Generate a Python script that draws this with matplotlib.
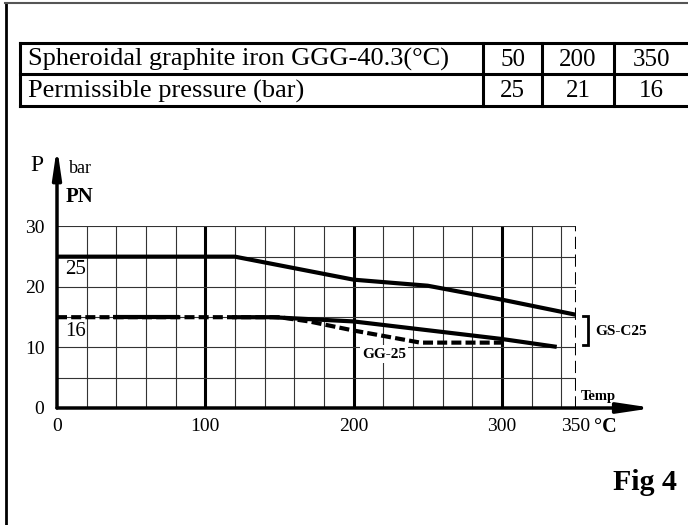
import matplotlib
matplotlib.use('Agg')
import matplotlib.pyplot as plt

plt.rcParams['font.family'] = ['Liberation Serif', 'DejaVu Serif']

# ---------------- data ----------------
table_row_labels = ["Spheroidal graphite iron GGG-40.3(°C)", "Permissible pressure (bar)"]
table_temps = ["50", "200", "350"]
table_pressures = ["25", "21", "16"]

pn25_t = [0, 120, 200, 250, 300, 350]
pn25_p = [25, 25, 21.2, 20.2, 17.9, 15.4]

gsc25_t = [118, 145, 200, 300, 337]
gsc25_p = [15, 15, 14.3, 11.4, 10.1]

gg25_t = [0, 150, 170, 200, 245, 300]
gg25_p = [15, 15, 14.3, 12.8, 10.8, 10.8]

pn16_seg_t = [38, 82]
pn16_seg_p = [15, 15]

x_ticks = [0, 100, 200, 300, 350]
x_ticklabels = ["0", "100", "200", "300", "350"]
y_ticks = [0, 10, 20, 30]
y_ticklabels = ["0", "10", "20", "30"]

# ---------------- layout ----------------
W, H = 688, 525
fig = plt.figure(figsize=(W / 100, H / 100), dpi=100)

ov = fig.add_axes([0, 0, 1, 1])
ov.set_xlim(0, W)
ov.set_ylim(H, 0)
ov.axis('off')

# frame
ov.plot([5.5, 5.5], [2.5, H], color='k', lw=2)
ov.plot([5, W], [2.5, 2.5], color='#555555', lw=1.5)

# table
tl, tr = 20, 692
ttop, tmid, tbot = 43, 74, 106
cols = [483, 542, 614]
for yy in (ttop, tmid, tbot):
    ov.plot([tl, tr], [yy, yy], color='k', lw=2.2, clip_on=False)
for xx in [tl] + cols:
    ov.plot([xx, xx], [ttop, tbot], color='k', lw=2.2)
rows_y = [(ttop + tmid) / 2 + 1, (tmid + tbot) / 2 + 1]
for lab, yy in zip(table_row_labels, rows_y):
    ov.text(28, yy, lab, fontsize=19, ha='left', va='center')
centers = [(cols[0] + cols[1]) / 2, (cols[1] + cols[2]) / 2, 651]
for c, t, p in zip(centers, table_temps, table_pressures):
    ov.text(c, rows_y[0], t, fontsize=18, ha='center', va='center')
    ov.text(c, rows_y[1], p, fontsize=18, ha='center', va='center')

# axis labels
ov.text(37, 171, "P", fontsize=17, ha='center', va='baseline')
ov.text(69, 173, "bar", fontsize=13, ha='left', va='baseline')
ov.text(66, 202, "PN", fontsize=15, fontweight='bold', ha='left', va='baseline')
ov.text(645, 490, "Fig 4", fontsize=21.5, fontweight='bold', ha='center', va='baseline')

# ---------------- chart ----------------
ax = fig.add_axes([57 / W, (H - 408) / H, 519 / W, 181.6 / H])
ax.set_xlim(0, 350)
ax.set_ylim(0, 30)
ax.patch.set_visible(False)
for s in ax.spines.values():
    s.set_visible(False)

for x in range(20, 350, 20):
    if x % 100 == 0:
        ax.axvline(x, color='k', lw=2.2, zorder=1)
    else:
        ax.axvline(x, color='#333333', lw=0.8, zorder=1)
for y in range(5, 31, 5):
    ax.axhline(y, color='#333333', lw=0.8, zorder=1)
ax.axvline(350, color='k', lw=2.2, ls=(0, (4, 1.8)), zorder=2)

ax.set_xticks(x_ticks)
ax.set_xticklabels(x_ticklabels)
ax.set_yticks(y_ticks)
ax.set_yticklabels(y_ticklabels)
ax.tick_params(axis='x', length=0, pad=7, labelsize=14)
ax.tick_params(axis='y', length=0, pad=9, labelsize=14)

# axes arrows
ax.annotate('', xy=(402, 0), xytext=(0, 0), annotation_clip=False,
            arrowprops=dict(arrowstyle='-|>,head_length=2.0,head_width=0.3',
                            lw=2.5, color='k', shrinkA=0, shrinkB=0), zorder=4)
ax.annotate('', xy=(0, 43.1), xytext=(0, 0), annotation_clip=False,
            arrowprops=dict(arrowstyle='-|>,head_length=1.7,head_width=0.25',
                            lw=2.5, color='k', shrinkA=0, shrinkB=0), zorder=4)

# curves
ax.plot(pn25_t, pn25_p, color='k', lw=3, zorder=3, solid_capstyle='butt')
ax.plot(gg25_t, gg25_p, color='k', lw=3, ls=(0, (2.4, 1.0)), zorder=3)
ax.plot(gsc25_t, gsc25_p, color='k', lw=3, zorder=3, solid_capstyle='butt')
ax.plot(pn16_seg_t, pn16_seg_p, color='k', lw=3, zorder=3, solid_capstyle='butt')

# labels inside chart
ax.text(12.8, 22.8, "25", fontsize=15, ha='center', va='center', zorder=5)
ax.text(12.8, 12.7, "16", fontsize=15, ha='center', va='center', zorder=5)
ax.text(220.5, 8.9, "GG-25", fontsize=11, fontweight='bold', ha='center', va='center',
        zorder=5, bbox=dict(facecolor='white', edgecolor='none', pad=1.5))
ax.text(380.5, 12.7, "GS-C25", fontsize=11, fontweight='bold', ha='center', va='center',
        clip_on=False)
ax.plot([354.5, 358, 358, 354.5], [15.2, 15.2, 10.4, 10.4], color='k', lw=2,
        clip_on=False, solid_joinstyle='miter')
ax.text(353.3, 1.3, "Temp", fontsize=10.5, fontweight='bold', ha='left', va='baseline',
        clip_on=False)
ax.text(370, -3.1, "°C", fontsize=14.5, fontweight='bold', ha='center', va='center',
        clip_on=False)

fig.savefig('out.png', dpi=100)
